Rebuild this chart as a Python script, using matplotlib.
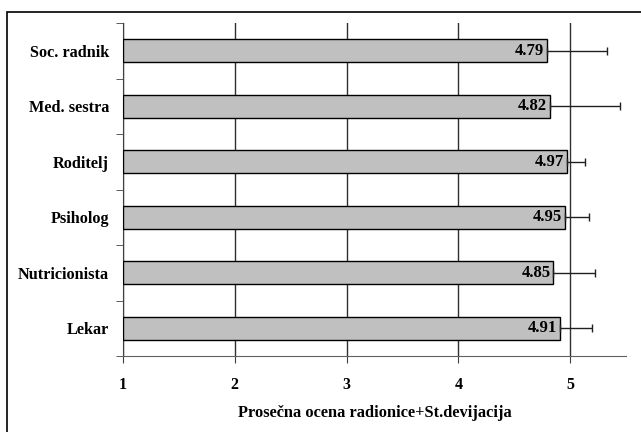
import numpy as np
import matplotlib
matplotlib.use("Agg")
import matplotlib.pyplot as plt
from matplotlib.patches import Rectangle

categories = ["Lekar", "Nutricionista", "Psiholog", "Roditelj", "Med. sestra", "Soc. radnik"]
means = [4.91, 4.85, 4.95, 4.97, 4.82, 4.79]
stdev = [0.29, 0.37, 0.22, 0.16, 0.63, 0.54]
xticks = [1, 2, 3, 4, 5]

plt.rcParams["font.family"] = ["Liberation Serif", "DejaVu Serif"]
plt.rcParams["font.weight"] = "bold"

fig = plt.figure(figsize=(6.41, 4.32), dpi=100)
ax = fig.add_axes([123 / 641, 1 - 356 / 432, (626 - 123) / 641, (356 - 23) / 432])

# outer frame, only top and left edges visible
fig.patches.append(Rectangle((7 / 641, -0.1), 1.2, 1 - 12 / 432 + 0.1,
                             transform=fig.transFigure, fill=False,
                             edgecolor="black", lw=1.2))

y = np.arange(len(categories))
ax.barh(y, np.array(means) - 1, left=1, height=0.42, color="#c0c0c0",
        edgecolor="black", lw=1, zorder=3)
ax.errorbar(means, y, xerr=[np.zeros(len(stdev)), stdev], fmt="none",
            ecolor="#202020", elinewidth=1, capsize=3, capthick=1, zorder=4)

for yi, m in zip(y, means):
    ax.text(m - 0.025, yi, f"{m:.2f}", ha="right", va="center",
            fontsize=12, fontweight="bold", zorder=5)

ax.set_xlim(1, 5.5)
ax.set_ylim(-0.5, len(categories) - 0.5)
ax.set_xticks(xticks)
ax.set_xticklabels([str(t) for t in xticks], fontsize=11.5, fontweight="bold")
ax.set_yticks(y)
ax.set_yticklabels(categories, fontsize=11.7, fontweight="bold")
ax.set_yticks(np.arange(-0.5, len(categories), 1), minor=True)
ax.tick_params(axis="y", which="major", length=0, pad=10)
ax.tick_params(axis="y", which="minor", length=5, color="#404040")
ax.tick_params(axis="x", length=5, color="#404040", pad=10)

ax.xaxis.grid(True, color="#303030", lw=1)
ax.set_axisbelow(True)
for s in ["top", "right"]:
    ax.spines[s].set_visible(False)
ax.spines["left"].set_color("#404040")
ax.spines["bottom"].set_color("#606060")

ax.set_xlabel("Prosečna ocena radionice+St.devijacija", fontsize=11.8,
              fontweight="bold", labelpad=9)

fig.savefig("out.png", dpi=100)
